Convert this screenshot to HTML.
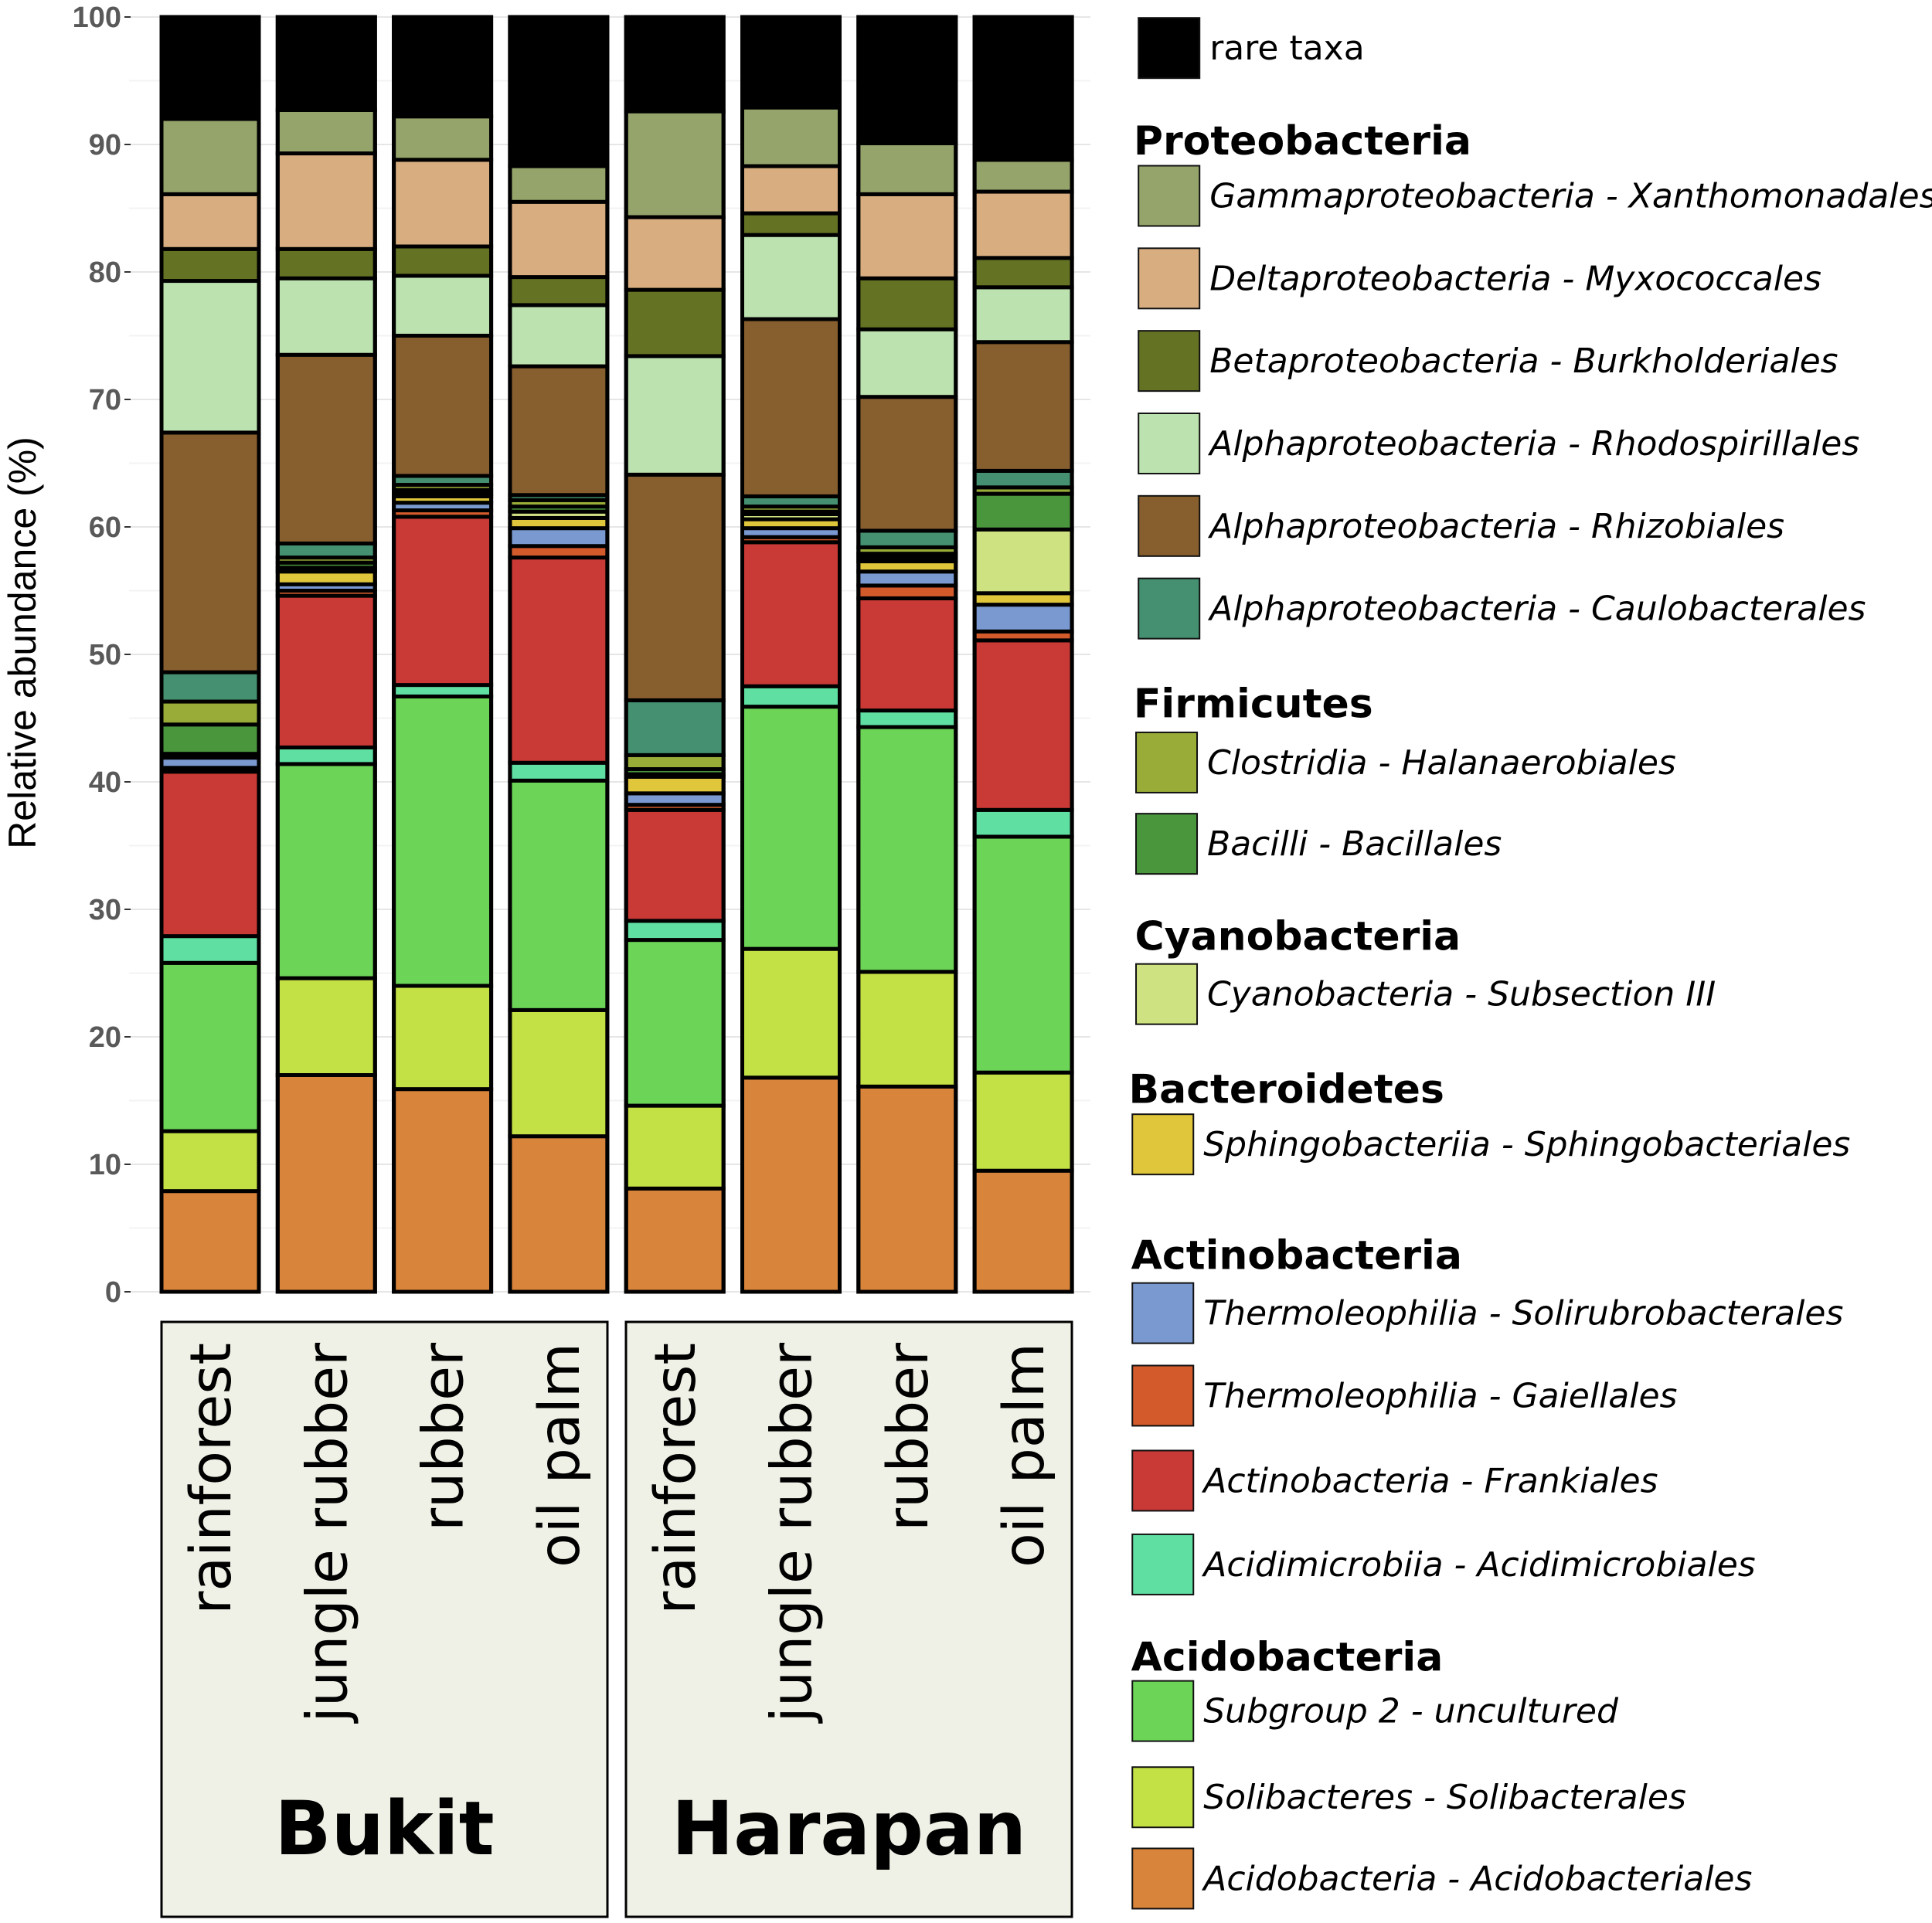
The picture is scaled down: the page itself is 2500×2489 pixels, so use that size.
<!DOCTYPE html>
<html><head><meta charset="utf-8">
<style>
html,body{margin:0;padding:0;background:#fff;}
svg{display:block;font-family:"DejaVu Sans","Liberation Sans",sans-serif;}
</style></head>
<body>
<svg id="chart" width="2500" height="2489" viewBox="0 0 2500 2489" xmlns="http://www.w3.org/2000/svg">
<g id="grid"></g>
<g id="yticks"></g>
<text transform="translate(46,832) rotate(-90)" text-anchor="middle" font-family="Liberation Sans, sans-serif" font-size="50" fill="#000">Relative abundance (%)</text>
<g id="bars"></g>
<g id="strips"></g>
<g id="legend"></g>
</svg>
<script>
const categories = ["rainforest","jungle rubber","rubber","oil palm","rainforest","jungle rubber","rubber","oil palm"];
const groups = ["Bukit","Harapan"];
const taxa = ["Acidobacteria - Acidobacteriales","Solibacteres - Solibacterales","Subgroup 2 - uncultured","Acidimicrobiia - Acidimicrobiales","Actinobacteria - Frankiales","Thermoleophilia - Gaiellales","Thermoleophilia - Solirubrobacterales","Sphingobacteriia - Sphingobacteriales","Cyanobacteria - Subsection III","Bacilli - Bacillales","Clostridia - Halanaerobiales","Alphaproteobacteria - Caulobacterales","Alphaproteobacteria - Rhizobiales","Alphaproteobacteria - Rhodospirillales","Betaproteobacteria - Burkholderiales","Deltaproteobacteria - Myxococcales","Gammaproteobacteria - Xanthomonadales","rare taxa"];
const colors = ["#d8843a","#c3e045","#6cd457","#5fdfa2","#c93935","#d35b2b","#7a99d0","#e0c63b","#cfe281","#4a963d","#99ac38","#449071","#875e2e","#bce2b0","#647224","#d8ae80","#95a46a","#000000"];
const bukitRainforest = [7.9,4.7,13.2,2.1,12.9,0.3,0.8,0.3,0,2.3,1.8,2.3,18.8,11.9,2.5,4.3,5.9,8.0];
const bukitJungleRubber = [17.0,7.6,16.8,1.3,11.9,0.4,0.5,1.0,0.3,0.4,0.4,1.1,14.8,6.0,2.3,7.5,3.4,7.3];
const bukitRubber = [15.9,8.1,22.7,0.9,13.2,0.5,0.6,0.5,0.2,0.3,0.4,0.7,11.0,4.7,2.3,6.8,3.4,7.8];
const bukitOilPalm = [12.2,9.9,18.0,1.4,16.1,0.9,1.4,0.8,0.5,0.4,0.5,0.4,10.1,4.8,2.2,5.9,2.8,11.7];
const harapanRainforest = [8.1,6.5,13.0,1.5,8.7,0.4,0.9,1.3,0.2,0.4,1.1,4.3,17.7,9.3,5.2,5.7,8.3,7.4];
const harapanJungleRubber = [16.8,10.1,19.0,1.6,11.3,0.4,0.7,0.7,0.4,0.2,0.4,0.8,13.9,6.6,1.7,3.7,4.6,7.1];
const harapanRubber = [16.1,9.0,19.2,1.3,8.8,1.0,1.1,0.8,0.3,0.3,0.5,1.3,10.5,5.3,4.0,6.6,4.0,9.9];
const harapanOilPalm = [9.5,7.7,18.5,2.1,13.3,0.7,2.1,0.9,5.0,2.8,0.5,1.3,10.1,4.3,2.3,5.2,2.5,11.2];
const tickValues = [0,10,20,30,40,50,60,70,80,90,100];
const series = [bukitRainforest,bukitJungleRubber,bukitRubber,bukitOilPalm,harapanRainforest,harapanJungleRubber,harapanRubber,harapanOilPalm];

const NS = "http://www.w3.org/2000/svg";
function mk(tag, attrs, parent){const e=document.createElementNS(NS,tag);for(const k in attrs)e.setAttribute(k,attrs[k]);parent.appendChild(e);return e;}
const y = v => 1672 - v * 16.5;
const x = i => 272 + i * 150.3;
const barW = 126;

const grid = document.getElementById('grid');
const yt = document.getElementById('yticks');
for (let v = 0; v <= 100; v += 5) {
  const l = mk('line',{x1:167,x2:1411,y1:y(v),y2:y(v),stroke:v%10===0?'#e6e6e6':'#f3f3f3','stroke-width':2},grid);
  
  
}
tickValues.forEach(v=>{
  const t = mk('text',{x:157,y:y(v)+13,'text-anchor':'end','font-size':38,'font-weight':'bold',fill:'#595959','font-family':'Liberation Sans, sans-serif'},yt);
  t.textContent = v;
  
  
  const tk = mk('line',{x1:161,x2:169,y1:y(v),y2:y(v),stroke:'#333','stroke-width':2},yt);
  
  
});

const bars = document.getElementById('bars');
series.forEach((vals,i)=>{
  const g = mk('g',{},bars);
  
  
  let cum = 0;
  const x0 = x(i) - barW/2;
  vals.forEach((v,k)=>{
    if (v <= 0) return;
    const r = mk('rect',{x:x0,y:y(cum+v),width:barW,height:v*16.5,fill:colors[k],stroke:'#000','stroke-width':5},g);
    
    
    cum += v;
  });
  const o = mk('rect',{x:x0,y:y(cum),width:barW,height:cum*16.5,fill:'none',stroke:'#000','stroke-width':5},g);
  
  
});

const strips = document.getElementById('strips');
[[209,786],[810,1387]].forEach((b,gi)=>{
  const r = mk('rect',{x:b[0],y:1711,width:b[1]-b[0],height:770,fill:'#f0f1e6',stroke:'#000','stroke-width':3},strips);
  
  
  const t = mk('text',{x:(b[0]+b[1])/2,y:2400,'text-anchor':'middle','font-size':96,'font-weight':'bold',fill:'#000'},strips);
  t.textContent = groups[gi];
  
  
});
categories.forEach((c,i)=>{
  const t = mk('text',{transform:'translate('+(x(i)+26)+',1738) rotate(-90)','text-anchor':'end','font-size':73,fill:'#000'},strips);
  t.textContent = c;
  
  
});

const legend = document.getElementById('legend');
const legendItems = [
  ['item',17,39,924],['head','Proteobacteria',114,920],
  ['item',16,159,924],['item',15,226,924],['item',14,293,924],['item',13,360,924],['item',12,427,924],['item',11,494,924],
  ['head','Firmicutes',571,920],['item',10,619,922],['item',9,685,922],
  ['head','Cyanobacteria',760,921],['item',8,807,922],
  ['head','Bacteroidetes',884,916],['item',7,929,919],
  ['head','Actinobacteria',1019,918],['item',6,1066,919],['item',5,1133,919],['item',4,1202,919],['item',3,1270,919],
  ['head','Acidobacteria',1345,918],['item',2,1389,919],['item',1,1459,919],['item',0,1525,919]
];
const s = 1.5944;
legendItems.forEach(it=>{
  const cy = it[2]*s;
  if (it[0]==='head'){
    const t = mk('text',{x:it[3]*s,y:cy+18,'font-size':52,'font-weight':'bold',fill:'#000'},legend);
    t.textContent = it[1];
    
    
  } else {
    const k = it[1];
    const sx = it[3]*s;
    const r = mk('rect',{x:sx,y:cy-39,width:79,height:78,fill:colors[k],stroke:'#111','stroke-width':2},legend);
    
    
    const t = mk('text',{x:sx+92,y:cy+15,'font-size':44,'font-style':k===17?'normal':'italic',fill:'#000'},legend);
    t.textContent = taxa[k];
    
    
  }
});
</script>
</body></html>
